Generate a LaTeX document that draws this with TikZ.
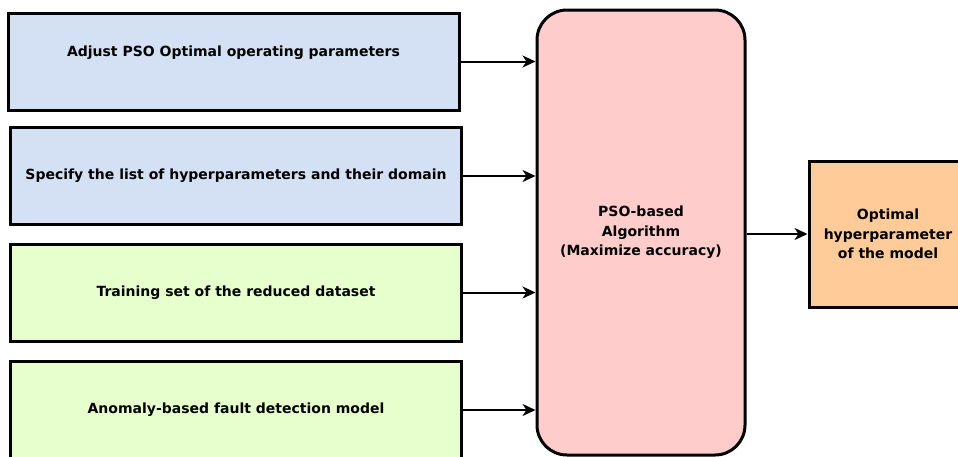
\documentclass[tikz,border=0pt]{standalone}
\usepackage{fontspec}
\setmainfont{DejaVu Sans}
\usepackage{xcolor}
\usetikzlibrary{arrows.meta}
\usetikzlibrary{shapes}
\definecolor{blueish}{HTML}{D4E1F5}
\definecolor{greenish}{HTML}{E6FFCC}
\definecolor{pinkish}{HTML}{FFCCCC}
\definecolor{orangeish}{HTML}{FFCC99}
\newcommand{\lbl}{\bfseries\fontsize{14}{19.5}\selectfont}

\begin{document}
\begin{tikzpicture}[x=1pt, y=-1pt,
        inbox/.style={draw, line width=3pt, minimum width=451pt, minimum height=97pt, inner sep=0pt, font=\lbl},
        link/.style={line width=2pt, -{Stealth[length=13pt, width=12pt, inset=4pt]}}]
            \clip (0, 0) rectangle (958, 456);

            \node[inbox, fill=blueish, text depth=21pt] (adjust) at (233.5, 61.5) {Adjust PSO Optimal operating parameters};
            \node[inbox, fill=blueish] (specify) at (236, 176) {Specify the list of hyperparameters and their domain};
            \node[inbox, fill=greenish] (training) at (236, 292.5) {Training set of the reduced dataset};
            \node[inbox, fill=greenish] (anomaly) at (236, 410) {Anomaly-based fault detection model};

            \node[draw, line width=3pt, fill=pinkish, rounded corners=30pt, minimum width=208pt, minimum height=445pt, align=center, font=\lbl] (pso) at (641, 232.5) {PSO-based\\Algorithm\\(Maximize accuracy)};
            \node[draw, line width=3pt, fill=orangeish, minimum width=158pt, minimum height=146pt, align=center, font=\lbl] (optimal) at (888, 234) {Optimal\\hyperparameter\\of the model};

            \draw[link] (adjust.east) -- (adjust.east -| pso.west);
            \draw[link] (specify.east) -- (specify.east -| pso.west);
            \draw[link] (training.east) -- (training.east -| pso.west);
            \draw[link] (anomaly.east) -- (anomaly.east -| pso.west);
            \draw[link] (pso.east |- optimal.west) -- (optimal.west);

        \end{tikzpicture}
\end{document}
